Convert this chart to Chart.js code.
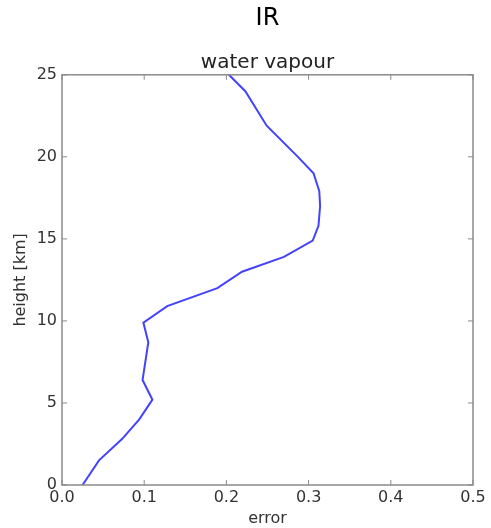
<!DOCTYPE html>
<html>
<head>
<meta charset="utf-8">
<script src="https://cdn.jsdelivr.net/npm/chart.js@4/dist/chart.umd.min.js"></script>
<style>
  html, body { margin: 0; padding: 0; background: #fff; }
  #wrap { width: 491px; height: 528px; }
</style>
</head>
<body>
<div id="wrap"><canvas id="profile" width="491" height="528"></canvas></div>
<script>
// error profile (error vs height in km)
const errorValues = [0.025, 0.045, 0.073, 0.094, 0.110, 0.098, 0.105, 0.099, 0.128, 0.189, 0.219, 0.270, 0.305, 0.312, 0.314, 0.313, 0.306, 0.287, 0.249, 0.223, 0.203];
const heightValues = [0.0, 1.5, 2.8, 4.0, 5.2, 6.4, 8.7, 9.9, 10.9, 12.0, 13.0, 13.9, 14.9, 15.8, 17.0, 17.9, 19.0, 20.0, 21.9, 24.0, 25.0];
const xTicks = [0.0, 0.1, 0.2, 0.3, 0.4, 0.5];
const yTicks = [0, 5, 10, 15, 20, 25];

const points = errorValues.map((e, i) => ({ x: e, y: heightValues[i] }));

// matplotlib-like frame with inward ticks on all four sides
const frameTicks = {
  id: "frameTicks",
  afterDraw(chart) {
    const { ctx, chartArea: a, scales } = chart;
    ctx.save();
    ctx.strokeStyle = "#8a8a8a";
    ctx.lineWidth = 1.5;
    ctx.strokeRect(a.left, a.top, a.right - a.left, a.bottom - a.top);
    ctx.lineWidth = 1;
    ctx.beginPath();
    xTicks.forEach(v => {
      const px = scales.x.getPixelForValue(v);
      ctx.moveTo(px, a.bottom); ctx.lineTo(px, a.bottom - 5);
      ctx.moveTo(px, a.top); ctx.lineTo(px, a.top + 5);
    });
    yTicks.forEach(v => {
      const py = scales.y.getPixelForValue(v);
      ctx.moveTo(a.left, py); ctx.lineTo(a.left + 5, py);
      ctx.moveTo(a.right, py); ctx.lineTo(a.right - 5, py);
    });
    ctx.stroke();
    ctx.restore();
  }
};

const font = "'DejaVu Sans', sans-serif";

new Chart(document.getElementById("profile"), {
  type: "scatter",
  data: {
    datasets: [{
      data: points,
      showLine: true,
      borderColor: "#4343ff",
      borderWidth: 2,
      pointRadius: 0,
      tension: 0
    }]
  },
  options: {
    responsive: false,
    animation: false,
    layout: { padding: { left: 11, right: 18, top: 0, bottom: 0 } },
    plugins: {
      legend: { display: false },
      tooltip: { enabled: false },
      title: {
        display: true,
        fullSize: false,
        text: "IR",
        color: "#000",
        font: { family: font, size: 24, weight: "normal" },
        padding: { top: 4, bottom: 18 }
      },
      subtitle: {
        display: true,
        fullSize: false,
        text: "water vapour",
        color: "#222",
        font: { family: font, size: 20, weight: "normal" },
        padding: { top: 0, bottom: 0 }
      }
    },
    scales: {
      x: {
        type: "linear",
        min: 0,
        max: 0.5,
        afterBuildTicks: s => { s.ticks = xTicks.map(v => ({ value: v })); },
        afterFit: s => { s.height = 43; },
        grid: { display: false, drawTicks: false },
        border: { display: false },
        ticks: {
          color: "#333",
          font: { family: font, size: 16 },
          padding: 3,
          maxRotation: 0,
          callback: v => v.toFixed(1)
        },
        title: {
          display: true,
          text: "error",
          color: "#333",
          font: { family: font, size: 16 },
          padding: { top: 0, bottom: 0 }
        }
      },
      y: {
        type: "linear",
        min: 0,
        max: 25,
        afterBuildTicks: s => { s.ticks = yTicks.map(v => ({ value: v })); },
        afterFit: s => { s.width = 51; },
        grid: { display: false, drawTicks: false },
        border: { display: false },
        ticks: {
          color: "#333",
          font: { family: font, size: 16 },
          padding: 5
        },
        title: {
          display: true,
          text: "height [km]",
          color: "#333",
          font: { family: font, size: 16 },
          padding: { top: 0, bottom: 0 }
        }
      }
    }
  },
  plugins: [frameTicks]
});
</script>
</body>
</html>
